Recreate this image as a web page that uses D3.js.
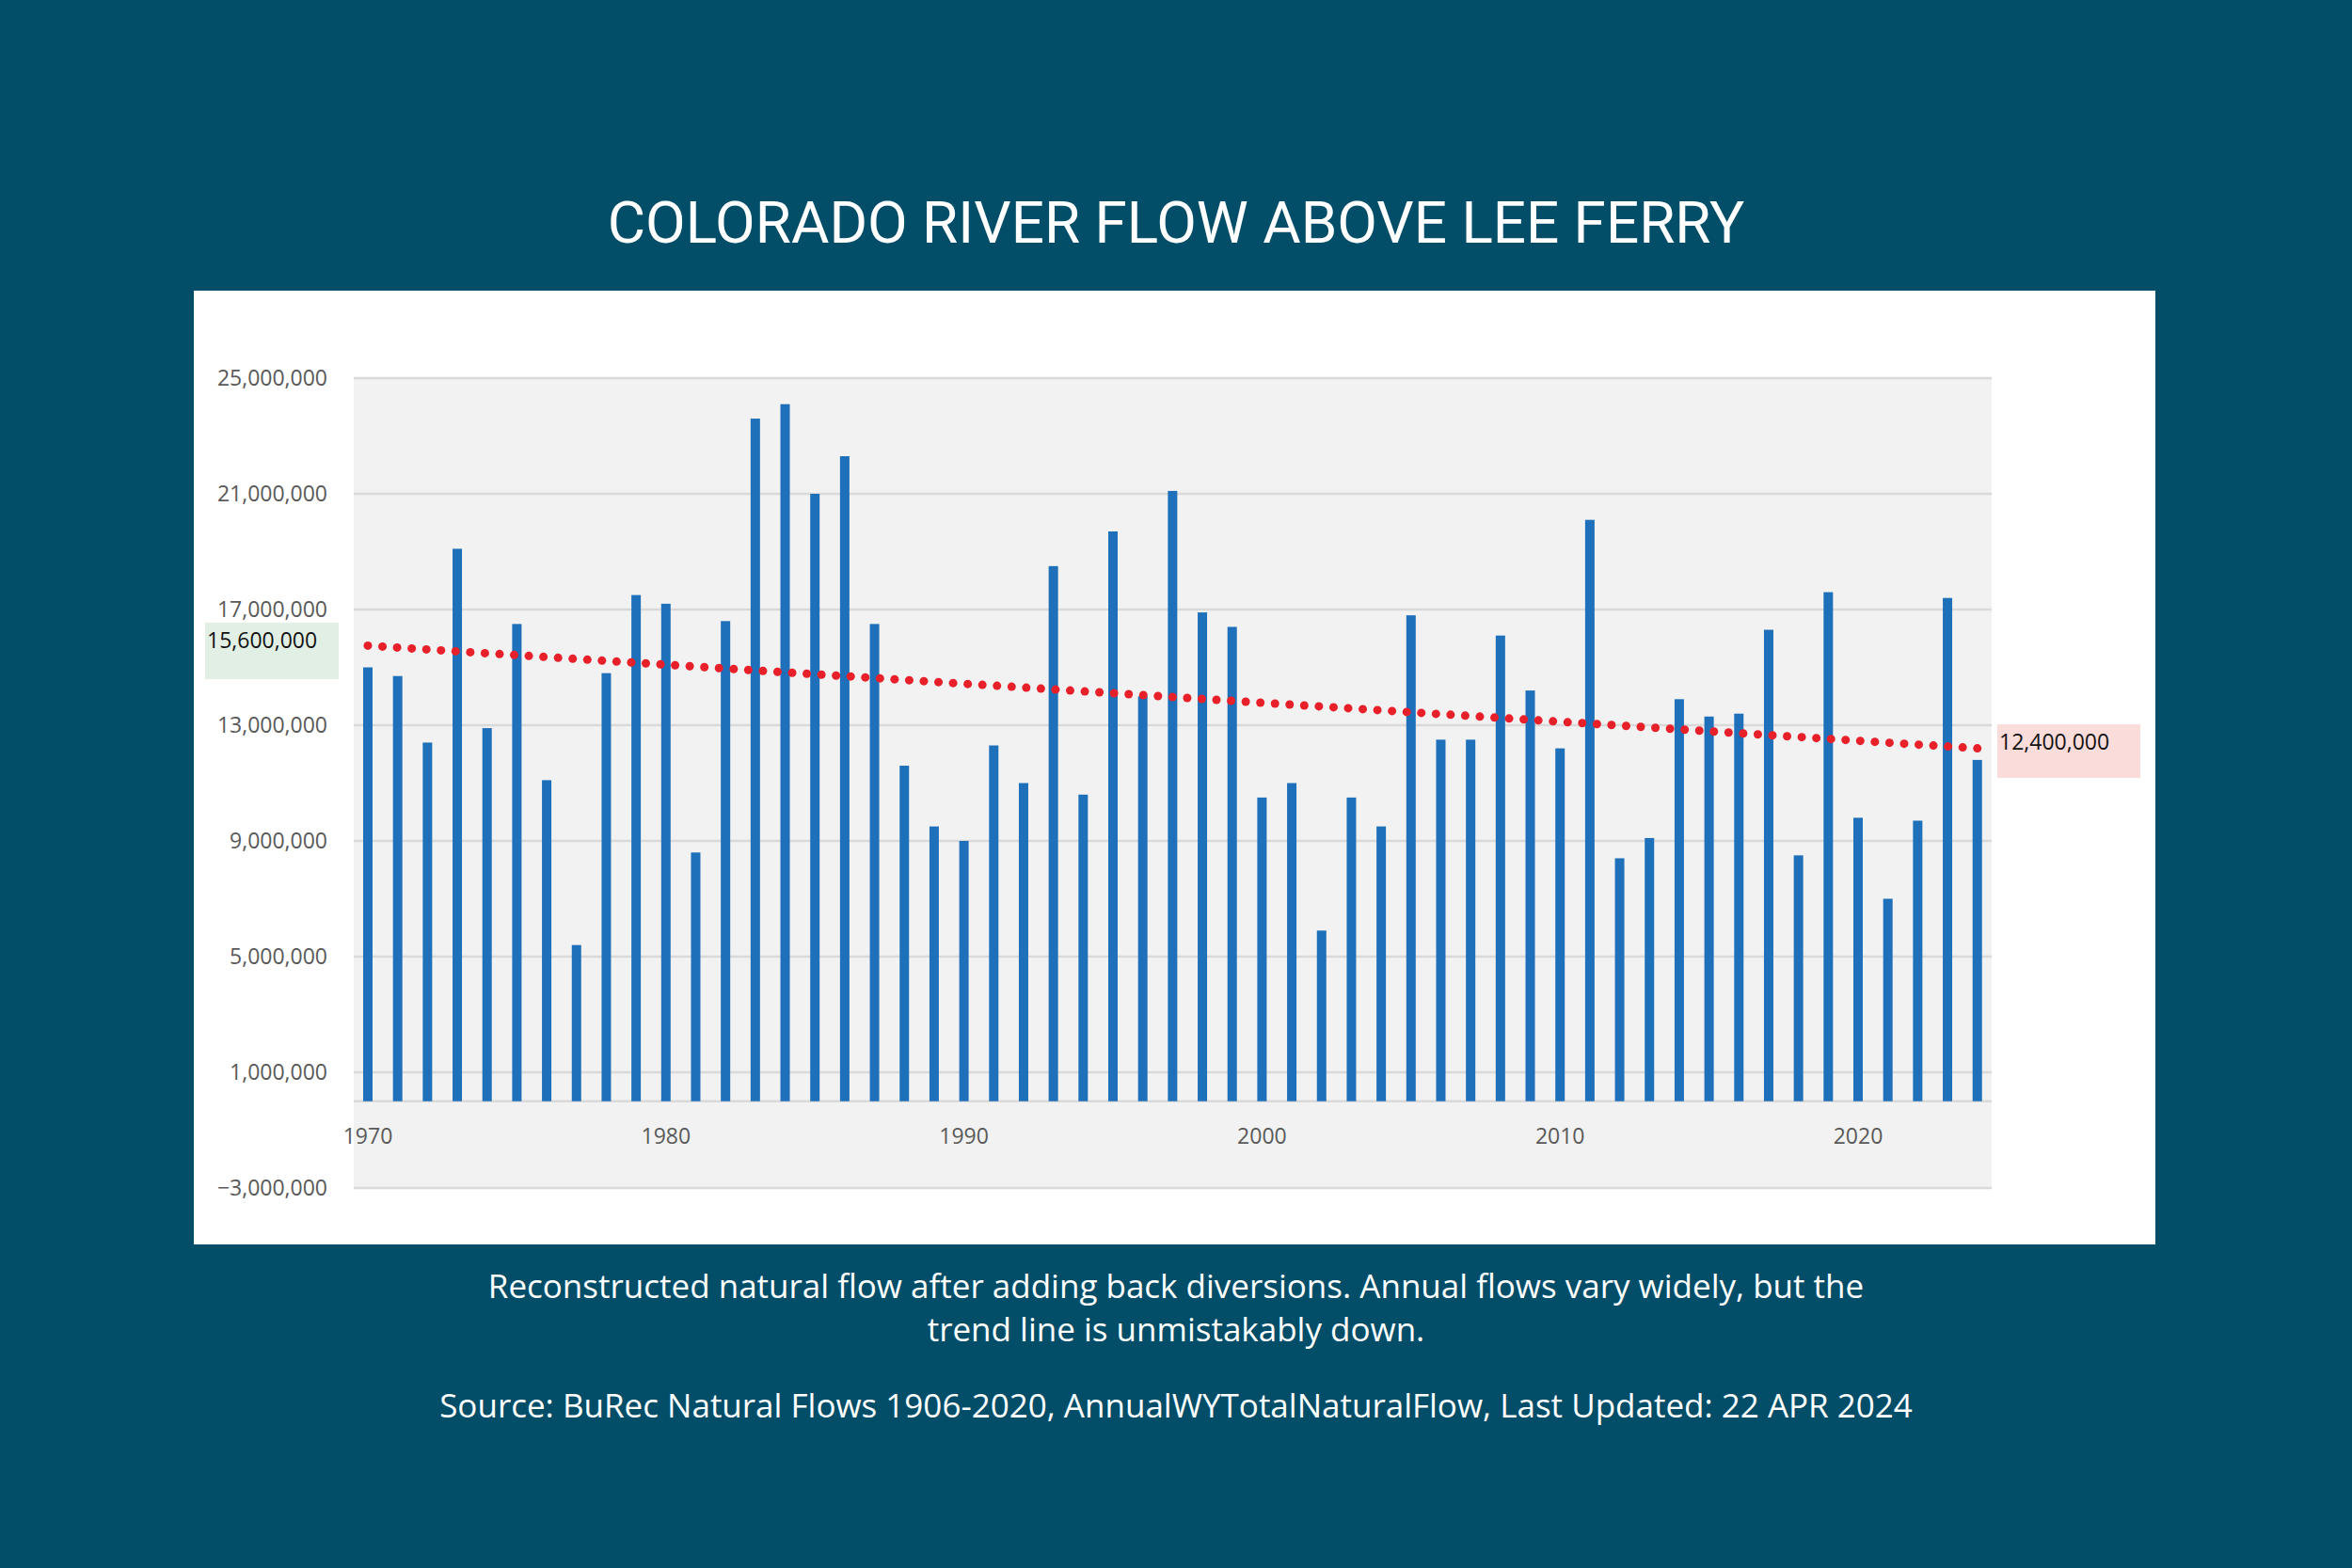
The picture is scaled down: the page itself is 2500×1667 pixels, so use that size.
<!DOCTYPE html>
<html><head><meta charset="utf-8">
<script src="https://cdn.jsdelivr.net/npm/d3@7"></script>
<style>body{margin:0;background:#024d68;}svg{display:block;}</style>
</head><body><div id="container"></div>
<script>
// Data (acre-feet)
const years = d3.range(1970, 2025);
const flows = [15.0,14.7,12.4,19.1,12.9,16.5,11.1,5.4,14.8,17.5,
  17.2,8.6,16.6,23.6,24.1,21.0,22.3,16.5,11.6,9.5,
  9.0,12.3,11.0,18.5,10.6,19.7,14.0,21.1,16.9,16.4,
  10.5,11.0,5.9,10.5,9.5,16.8,12.5,12.5,16.1,14.2,
  12.2,20.1,8.4,9.1,13.9,13.3,13.4,16.3,8.5,17.6,
  9.8,7.0,9.7,17.4,11.8].map(v => v * 1e6);
const trendYears = [1970, 2024];
const trendValues = [15.75e6, 12.2e6];
const yTicks = [-3e6, 1e6, 5e6, 9e6, 13e6, 17e6, 21e6, 25e6];
const xTicks = [1970, 1980, 1990, 2000, 2010, 2020];

const W = 2500, H = 1667;
const svg = d3.select("#container").append("svg").attr("width", W).attr("height", H);
svg.append("rect").attr("width", W).attr("height", H).attr("fill", "#024d68");

svg.append("text").attr("x", 1250).attr("y", 258).attr("text-anchor", "middle")
  .attr("fill", "#fff").attr("font-family", "Roboto, sans-serif").attr("font-size", 62)
  .text("COLORADO RIVER FLOW ABOVE LEE FERRY");

svg.append("rect").attr("x", 206).attr("y", 309).attr("width", 2085).attr("height", 1014).attr("fill", "#fff");

const x = d3.scaleLinear().domain([1970, 2020]).range([391, 1975]);
const y = d3.scaleLinear().domain([-3e6, 25e6]).range([1263, 402]);

svg.append("rect").attr("x", 376).attr("y", y(25e6)).attr("width", 2117 - 376)
  .attr("height", y(-3e6) - y(25e6)).attr("fill", "#f2f2f2");

svg.append("g").selectAll("line").data(yTicks).join("line")
  .attr("x1", 376).attr("x2", 2117).attr("y1", d => y(d)).attr("y2", d => y(d))
  .attr("stroke", "#d9d9d9").attr("stroke-width", 2.5);

const fmt = d3.format(",");
svg.append("g").selectAll("text").data(yTicks).join("text")
  .attr("x", 348).attr("y", d => y(d) + 8).attr("text-anchor", "end")
  .attr("fill", "#595959").attr("font-family", "'Open Sans', sans-serif").attr("font-size", 23)
  .text(d => fmt(d));

// zero axis
svg.append("line").attr("x1", 376).attr("x2", 2117).attr("y1", y(0)).attr("y2", y(0))
  .attr("stroke", "#d9d9d9").attr("stroke-width", 2.5);

svg.append("g").selectAll("rect").data(years).join("rect")
  .attr("x", d => x(d) - 5).attr("width", 10)
  .attr("y", (d, i) => y(flows[i])).attr("height", (d, i) => y(0) - y(flows[i]))
  .attr("fill", "#1f70ba");

svg.append("g").selectAll("text").data(xTicks).join("text")
  .attr("x", d => x(d)).attr("y", 1216).attr("text-anchor", "middle")
  .attr("fill", "#595959").attr("font-family", "'Open Sans', sans-serif").attr("font-size", 23)
  .text(d => d);

// dotted trend line
const t = d3.scaleLinear().domain(trendYears).range(trendValues);
const dots = d3.range(0, 1 + 1e-9, 1 / 110).map(f => 1970 + f * 54);
svg.append("g").selectAll("circle").data(dots).join("circle")
  .attr("cx", d => x(d)).attr("cy", d => y(t(d))).attr("r", 4.5).attr("fill", "#e8202a");

// trend labels
svg.append("rect").attr("x", 218).attr("y", 662).attr("width", 142).attr("height", 60).attr("fill", "#e2efe4");
svg.append("text").attr("x", 220).attr("y", 689).attr("fill", "#111")
  .attr("font-family", "'Open Sans', sans-serif").attr("font-size", 23).text(fmt(15600000));
svg.append("rect").attr("x", 2123).attr("y", 770).attr("width", 152).attr("height", 57).attr("fill", "#fadcdb");
svg.append("text").attr("x", 2125).attr("y", 797).attr("fill", "#111")
  .attr("font-family", "'Open Sans', sans-serif").attr("font-size", 23).text(fmt(12400000));

const cap = ["Reconstructed natural flow after adding back diversions. Annual flows vary widely, but the",
  "trend line is unmistakably down."];
svg.append("g").selectAll("text").data(cap).join("text")
  .attr("x", 1250).attr("y", (d, i) => 1380 + i * 46).attr("text-anchor", "middle")
  .attr("fill", "#fff").attr("font-family", "'Open Sans', sans-serif").attr("font-size", 35).text(d => d);
svg.append("text").attr("x", 1250).attr("y", 1507).attr("text-anchor", "middle")
  .attr("fill", "#fff").attr("font-family", "'Open Sans', sans-serif").attr("font-size", 35)
  .text("Source: BuRec Natural Flows 1906-2020, AnnualWYTotalNaturalFlow, Last Updated: 22 APR 2024");
</script></body></html>
